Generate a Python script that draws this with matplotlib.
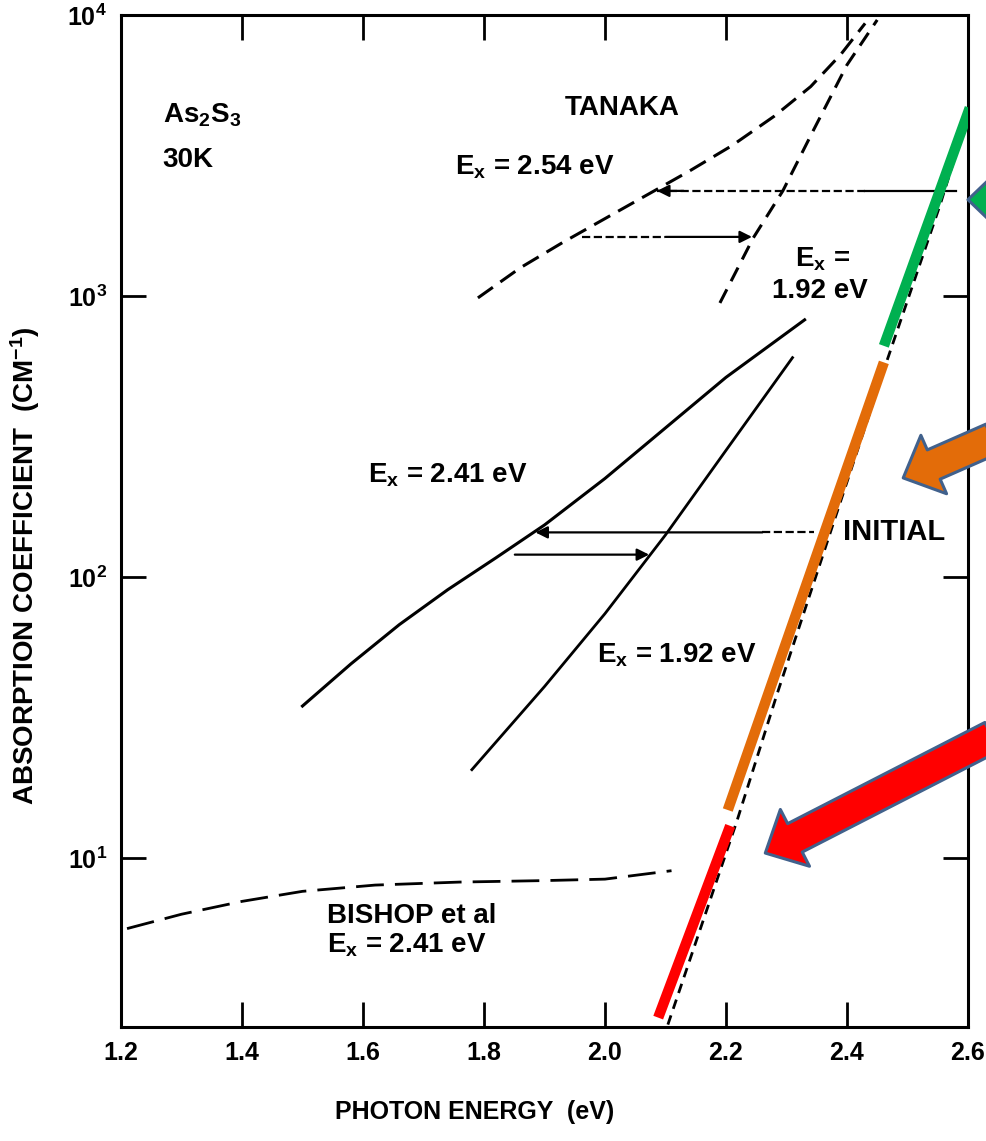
import matplotlib
matplotlib.use("Agg")
import matplotlib.pyplot as plt

plt.rcParams['font.family'] = ['Liberation Sans', 'DejaVu Sans']
plt.rcParams['font.weight'] = 'bold'
plt.rcParams['axes.labelweight'] = 'bold'
plt.rcParams['mathtext.fontset'] = 'custom'
plt.rcParams['mathtext.rm'] = 'Liberation Sans:bold'
plt.rcParams['mathtext.it'] = 'Liberation Sans:bold'
plt.rcParams['mathtext.bf'] = 'Liberation Sans:bold'
plt.rcParams['mathtext.default'] = 'regular'

# values: photon energy (eV) vs absorption coefficient (cm^-1)
bishop_e = [1.21, 1.30, 1.40, 1.50, 1.62, 1.76, 1.90, 2.00, 2.11]
bishop_a = [5.6, 6.3, 7.0, 7.6, 8.0, 8.2, 8.3, 8.4, 9.0]

tanaka254_e = [1.79, 1.86, 1.93, 2.00, 2.07, 2.14, 2.21, 2.28, 2.34, 2.39, 2.43]
tanaka254_a = [984, 1259, 1549, 1884, 2291, 2786, 3428, 4365, 5559, 7244, 9333]

tanaka192_e = [2.19, 2.245, 2.294, 2.344, 2.40, 2.45]
tanaka192_a = [944, 1607, 2365, 3865, 6640, 9600]

ex241_e = [1.50, 1.58, 1.66, 1.74, 1.82, 1.90, 2.00, 2.10, 2.20, 2.33]
ex241_a = [34.7, 49, 67.6, 90, 117, 153, 224, 339, 513, 822]

ex192_e = [1.78, 1.90, 2.00, 2.10, 2.20, 2.31]
ex192_a = [20.6, 40.7, 74, 141, 282, 603]

initial_e = [2.104, 2.218, 2.284, 2.466, 2.554, 2.60]
initial_a = [2.55, 13.5, 38, 587, 2110, 4400]

# coloured highlight segments laid over the INITIAL curve
red_e, red_a = [2.088, 2.207], [2.70, 13.0]
orange_e, orange_a = [2.203, 2.461], [14.8, 580]
green_e, green_a = [2.461, 2.603], [664, 4670]

# thin shift arrows, head part: (from E, to E, level)
shift_arrows = [
    (2.13, 2.086, 2365),
    (2.10, 2.243, 1622),
    (2.26, 1.885, 144),
    (1.851, 2.073, 120),
]
# rest of the shift arrow lines: (from E, to E, level, style)
shift_lines = [
    (2.43, 2.58, 2365, '-'),
    (2.086, 2.43, 2365, '--'),
    (1.962, 2.10, 1622, '--'),
    (2.26, 2.345, 144, '--'),
]

# block arrows: (tip E, tip value, tail E, tail value, fill)
block_arrows = [
    (2.600, 2200, 2.70, 2200, '#00b050'),
    (2.493, 225, 2.64, 310, '#e36c09'),
    (2.265, 10.4, 2.64, 27, '#ff0000'),
]

fig = plt.figure(figsize=(9.86, 11.41), dpi=100)
ax = fig.add_axes([0.1227, 0.0999, 0.859, 0.887])
ax.set_yscale('log')
ax.set_xlim(1.2, 2.6)
ax.set_ylim(2.5, 1e4)

ax.plot(bishop_e, bishop_a, color='black', lw=2, dashes=(10, 4))
ax.plot(tanaka254_e, tanaka254_a, color='black', lw=2.2, dashes=(6, 3))
ax.plot(tanaka192_e, tanaka192_a, color='black', lw=2.2, dashes=(5, 3))
ax.plot(ex241_e, ex241_a, color='black', lw=2.2)
ax.plot(ex192_e, ex192_a, color='black', lw=2)
ax.plot(initial_e, initial_a, color='black', lw=2, dashes=(3.5, 2.5))

for e, a, c in [(red_e, red_a, '#ff0000'), (orange_e, orange_a, '#e36c09'),
                (green_e, green_a, '#00b050')]:
    ax.plot(e, a, color=c, lw=7.5, solid_capstyle='butt', zorder=4)

for x0, x1, lev, ls in shift_lines:
    ax.plot([x0, x1], [lev, lev], color='black', lw=1.6, linestyle=ls)
for x0, x1, lev in shift_arrows:
    ax.annotate('', xy=(x1, lev), xytext=(x0, lev),
                arrowprops=dict(arrowstyle='-|>', color='black', lw=1.6,
                                mutation_scale=18, shrinkA=0, shrinkB=0))

for tx, ta, sx, sa, fc in block_arrows:
    ax.annotate('', xy=(tx, ta), xytext=(sx, sa), annotation_clip=False,
                arrowprops=dict(
                    arrowstyle='simple,head_length=2.4,head_width=4.6,tail_width=2.3',
                    mutation_scale=10, fc=fc, ec='#41618c', lw=2.2,
                    shrinkA=0, shrinkB=0), zorder=6)

txt = dict(fontsize=20, ha='left', va='baseline')
ax.text(1.269, 4130, r'As$_2$S$_3$', fontsize=20, ha='left', va='baseline')
ax.text(1.269, 2880, '30K', **txt)
ax.text(1.934, 4410, 'TANAKA', **txt)
ax.text(1.752, 2700, r'E$_x$ = 2.54 eV', **txt)
ax.text(2.314, 1268, r'E$_x$ =', **txt)
ax.text(2.276, 984, '1.92 eV', **txt)
ax.text(1.608, 216, r'E$_x$ = 2.41 eV', **txt)
ax.text(1.987, 49.4, r'E$_x$ = 1.92 eV', **txt)
ax.text(2.393, 135.5, 'INITIAL', fontsize=21, ha='left', va='baseline')
ax.text(1.540, 5.87, 'BISHOP et al', **txt)
ax.text(1.540, 4.6, r'E$_x$ = 2.41 eV', **txt)

ax.set_xticks([1.2, 1.4, 1.6, 1.8, 2.0, 2.2, 2.4, 2.6])
ax.set_xticklabels(['1.2', '1.4', '1.6', '1.8', '2.0', '2.2', '2.4', '2.6'])
ax.set_yticks([10, 100, 1000, 10000])
ax.set_yticklabels([r'$10^1$', r'$10^2$', r'$10^3$', r'$10^4$'])
ax.minorticks_off()
ax.tick_params(direction='in', length=18, width=2, top=True, right=True,
               labelsize=18, pad=10)
for s in ax.spines.values():
    s.set_linewidth(2.2)

ax.set_xlabel('PHOTON ENERGY  (eV)', fontsize=18)
ax.set_ylabel(r'ABSORPTION COEFFICIENT  (CM$^{-1}$)', fontsize=20)
ax.xaxis.set_label_coords(0.418, -0.072)
ax.yaxis.set_label_coords(-0.093, 0.456)

fig.savefig('out.png', dpi=100)
